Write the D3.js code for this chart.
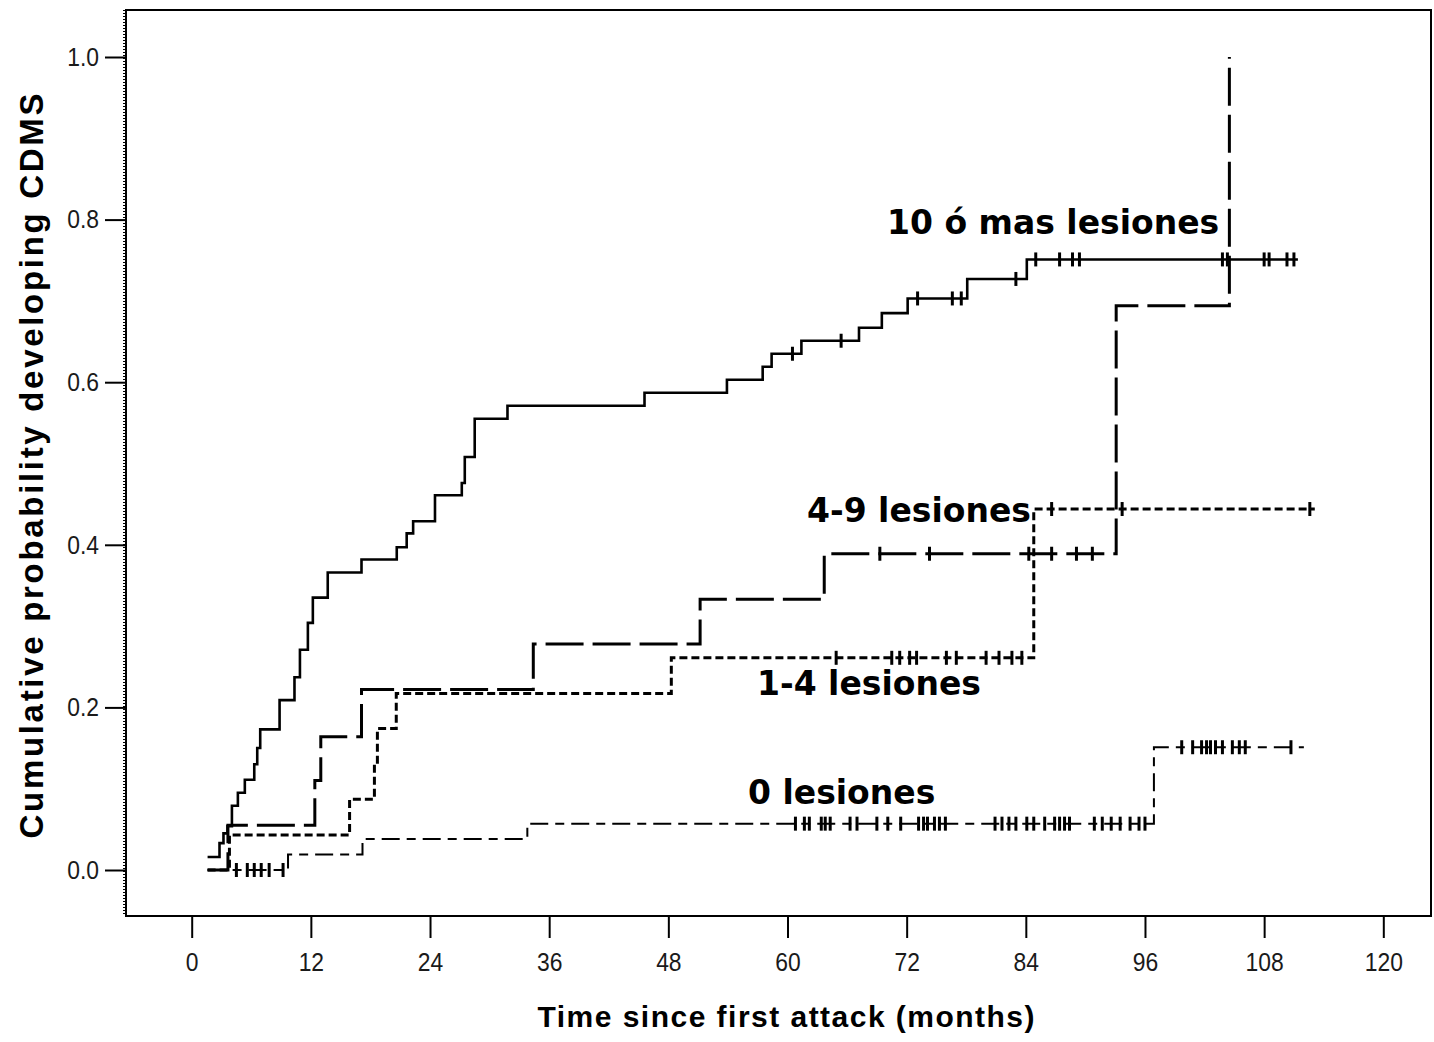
<!DOCTYPE html>
<html>
<head>
<meta charset="utf-8">
<script src="https://cdn.jsdelivr.net/npm/d3@7"></script>
<style>
  body { margin: 0; background: #fff; }
  svg { display: block; }
  .tick text { font-family: "Liberation Sans", Arial, sans-serif; font-size: 26px; fill: #1a1a1a; }
  .tick line { stroke: #000; stroke-width: 2px; }
  .title { font-family: "Liberation Sans", Arial, sans-serif; font-weight: bold; fill: #000; }
  .grp { font-family: "DejaVu Sans", Verdana, sans-serif; font-weight: bold; font-size: 33px; fill: #000; }
</style>
</head>
<body>
<div id="chart"></div>
<script>
// ---- data (months, cumulative probability) ----
const xTicks = [0, 12, 24, 36, 48, 60, 72, 84, 96, 108, 120];
const yTicks = [0, 0.2, 0.4, 0.6, 0.8, 1.0];

// 10 ó mas lesiones (solid)
const t10 = [1.6, 2.8, 3.2, 3.6, 4.05, 4.65, 5.35, 6.3, 6.6, 6.9, 8.85, 10.35, 10.9, 11.7, 12.2, 13.7, 17.1, 20.65, 21.65, 22.3, 24.5, 27.2, 27.5, 28.5, 31.8, 45.6, 53.9, 57.5, 58.4, 61.4, 67.2, 69.5, 72.1, 78.1, 84.1];
const p10 = [0.016, 0.033, 0.045, 0.054, 0.079, 0.095, 0.111, 0.13, 0.15, 0.173, 0.209, 0.237, 0.271, 0.304, 0.335, 0.366, 0.382, 0.397, 0.414, 0.429, 0.461, 0.476, 0.508, 0.555, 0.571, 0.587, 0.603, 0.619, 0.635, 0.651, 0.667, 0.685, 0.703, 0.727, 0.751];
const end10 = 111.4;
const c10 = [60.5, 65.4, 73.1, 76.6, 77.5, 83.0, 85.0, 87.4, 88.7, 89.4, 103.8, 104.3, 108.0, 108.5, 110.3, 111.0];

// long dashed curve (ends at 1.0)
const tLong = [1.6, 3.65, 12.4, 13.0, 17.1, 34.4, 51.2, 63.7, 93.1, 104.5];
const pLong = [0, 0.055, 0.11, 0.164, 0.222, 0.278, 0.333, 0.389, 0.694, 1.0];
const endLong = 104.5;
const cLong = [69.3, 74.3, 84.3, 86.6, 89.1, 90.7];

// short dashed curve
const tShort = [1.6, 3.8, 15.9, 18.4, 18.7, 20.6, 48.3, 84.8];
const pShort = [0, 0.043, 0.087, 0.13, 0.174, 0.217, 0.261, 0.444];
const endShort = 113.1;
const cShort = [64.9, 70.5, 71.3, 72.3, 73.0, 76.0, 77.0, 80.0, 81.3, 82.6, 83.6, 86.6, 93.7, 112.6];

// 0 lesiones (dash-dot)
const tZero = [1.6, 9.7, 17.2, 33.8, 96.9];
const pZero = [0, 0.019, 0.038, 0.057, 0.151];
const endZero = 112;
const cZero = [4.5, 5.6, 6.3, 7.0, 7.8, 9.2, 60.8, 61.7, 62.2, 63.4, 63.8, 64.3, 66.3, 67.0, 69.0, 70.1, 71.4, 73.2, 73.7, 74.1, 74.8, 75.3, 75.9, 80.9, 81.6, 82.3, 83.0, 84.1, 84.8, 85.9, 86.9, 87.4, 87.9, 88.4, 90.9, 91.7, 92.6, 93.5, 94.5, 95.4, 96.0, 99.7, 100.8, 101.7, 102.2, 102.6, 103.1, 103.8, 104.8, 105.5, 106.1, 110.7];

const groupLabels = ["10 ó mas lesiones", "4-9 lesiones", "1-4 lesiones", "0 lesiones"];

// ---- chart ----
const W = 1434, H = 1042;
const frame = { left: 126, top: 10, right: 1431, bottom: 916 };

const svg = d3.select("#chart").append("svg")
    .attr("width", W)
    .attr("height", H);

const x = d3.scaleLinear().domain([0, 120]).range([191.7, 1383.3]);
const y = d3.scaleLinear().domain([0, 1]).range([870, 57]);

// frame
svg.append("rect")
    .attr("x", frame.left).attr("y", frame.top)
    .attr("width", frame.right - frame.left)
    .attr("height", frame.bottom - frame.top)
    .attr("fill", "none").attr("stroke", "#000").attr("stroke-width", 2);

// ruler-like texture on the left axis
svg.append("line")
    .attr("x1", frame.left - 2).attr("x2", frame.left - 2)
    .attr("y1", frame.top).attr("y2", frame.bottom)
    .attr("stroke", "#000").attr("stroke-width", 2)
    .attr("stroke-dasharray", "1,2");

// x axis
const xAxisG = svg.append("g")
    .attr("transform", `translate(0,${frame.bottom})`)
    .call(d3.axisBottom(x).tickValues(xTicks).tickSize(22).tickPadding(15).tickFormat(d3.format("d")));
xAxisG.select(".domain").remove();
xAxisG.selectAll(".tick text").attr("transform", "scale(0.88,1)");

// y axis
const yAxisG = svg.append("g")
    .attr("transform", `translate(${frame.left},0)`)
    .call(d3.axisLeft(y).tickValues(yTicks).tickSize(21).tickPadding(6).tickFormat(d3.format(".1f")));
yAxisG.select(".domain").remove();
yAxisG.selectAll(".tick text")
    .attr("x", 0)
    .attr("transform", "translate(-27,0) scale(0.88,1)");

// titles
svg.append("text")
    .attr("class", "title")
    .attr("x", 786).attr("y", 1027)
    .attr("text-anchor", "middle")
    .attr("font-size", 30)
    .attr("textLength", 497).attr("lengthAdjust", "spacing")
    .text("Time since first attack (months)");

svg.append("text")
    .attr("class", "title")
    .attr("transform", "translate(43,466) rotate(-90)")
    .attr("text-anchor", "middle")
    .attr("font-size", 33)
    .attr("textLength", 745).attr("lengthAdjust", "spacing")
    .text("Cumulative probability developing CDMS");

// curves
const line = d3.line()
    .x(d => x(d[0]))
    .y(d => y(d[1]))
    .curve(d3.curveStepAfter);

function toPoints(ts, ps, end) {
    const pts = ts.map((t, i) => [t, ps[i]]);
    if (end > ts[ts.length - 1]) pts.push([end, ps[ps.length - 1]]);
    return pts;
}

function valueAt(ts, ps, t) {
    const i = d3.bisectRight(ts, t) - 1;
    return ps[Math.max(0, i)];
}

const series = [
    { t: tZero, p: pZero, end: endZero, c: cZero, dash: "18,7,9,7", width: 2 },
    { t: tShort, p: pShort, end: endShort, c: cShort, dash: "8,4", width: 3 },
    { t: tLong, p: pLong, end: endLong, c: cLong, dash: "38,9", width: 3 },
    { t: t10, p: p10, end: end10, c: c10, dash: null, width: 2.6 }
];

series.forEach(s => {
    svg.append("path")
        .datum(toPoints(s.t, s.p, s.end))
        .attr("d", line)
        .attr("fill", "none")
        .attr("stroke", "#000")
        .attr("stroke-width", s.width)
        .attr("stroke-dasharray", s.dash);

    svg.append("g").selectAll("line")
        .data(s.c)
        .join("line")
        .attr("x1", d => x(d)).attr("x2", d => x(d))
        .attr("y1", d => y(valueAt(s.t, s.p, d)) - 7)
        .attr("y2", d => y(valueAt(s.t, s.p, d)) + 7)
        .attr("stroke", "#000")
        .attr("stroke-width", 3);
});

// group labels
const labelPos = [[887, 234], [807, 522], [757, 695], [748, 804]];
svg.selectAll("text.grp")
    .data(groupLabels)
    .join("text")
    .attr("class", "grp")
    .attr("x", (d, i) => labelPos[i][0])
    .attr("y", (d, i) => labelPos[i][1])
    .text(d => d);
</script>
</body>
</html>
